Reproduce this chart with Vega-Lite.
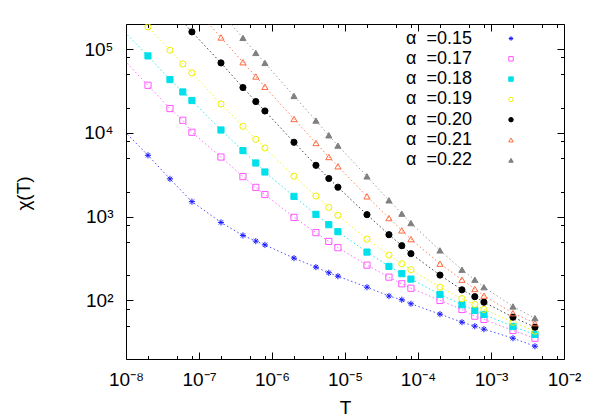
{
  "$schema": "https://vega.github.io/schema/vega-lite/v6.json",
  "autosize": {"type": "none"},
  "padding": {"left": 126, "top": 24, "right": 34, "bottom": 60},
  "width": 438,
  "height": 335,
  "data": {"values": [
    {"alpha": "0.15", "T": 8e-9, "chi": 12200},
    {"alpha": "0.15", "T": 2e-8, "chi": 5410},
    {"alpha": "0.15", "T": 4e-8, "chi": 2830},
    {"alpha": "0.15", "T": 8e-8, "chi": 1513},
    {"alpha": "0.15", "T": 2e-7, "chi": 855},
    {"alpha": "0.15", "T": 4e-7, "chi": 598},
    {"alpha": "0.15", "T": 6e-7, "chi": 511},
    {"alpha": "0.15", "T": 8e-7, "chi": 461},
    {"alpha": "0.15", "T": 2e-6, "chi": 320},
    {"alpha": "0.15", "T": 4e-6, "chi": 250},
    {"alpha": "0.15", "T": 6e-6, "chi": 214},
    {"alpha": "0.15", "T": 8e-6, "chi": 195},
    {"alpha": "0.15", "T": 2e-5, "chi": 144},
    {"alpha": "0.15", "T": 4e-5, "chi": 113},
    {"alpha": "0.15", "T": 6e-5, "chi": 102},
    {"alpha": "0.15", "T": 8e-5, "chi": 91.3},
    {"alpha": "0.15", "T": 2e-4, "chi": 68.6},
    {"alpha": "0.15", "T": 4e-4, "chi": 55.0},
    {"alpha": "0.15", "T": 6e-4, "chi": 49.3},
    {"alpha": "0.15", "T": 8e-4, "chi": 45.4},
    {"alpha": "0.15", "T": 2e-3, "chi": 35.4},
    {"alpha": "0.15", "T": 4e-3, "chi": 28.4},

    {"alpha": "0.17", "T": 8e-9, "chi": 86000},
    {"alpha": "0.17", "T": 2e-8, "chi": 37100},
    {"alpha": "0.17", "T": 4e-8, "chi": 19560},
    {"alpha": "0.17", "T": 6e-8, "chi": 14170},
    {"alpha": "0.17", "T": 8e-8, "chi": 10190},
    {"alpha": "0.17", "T": 2e-7, "chi": 5160},
    {"alpha": "0.17", "T": 4e-7, "chi": 3010},
    {"alpha": "0.17", "T": 6e-7, "chi": 2240},
    {"alpha": "0.17", "T": 8e-7, "chi": 1840},
    {"alpha": "0.17", "T": 2e-6, "chi": 982},
    {"alpha": "0.17", "T": 4e-6, "chi": 645},
    {"alpha": "0.17", "T": 6e-6, "chi": 507},
    {"alpha": "0.17", "T": 8e-6, "chi": 427},
    {"alpha": "0.17", "T": 2e-5, "chi": 264},
    {"alpha": "0.17", "T": 4e-5, "chi": 190},
    {"alpha": "0.17", "T": 6e-5, "chi": 158},
    {"alpha": "0.17", "T": 8e-5, "chi": 140},
    {"alpha": "0.17", "T": 2e-4, "chi": 100},
    {"alpha": "0.17", "T": 4e-4, "chi": 78.1},
    {"alpha": "0.17", "T": 6e-4, "chi": 64.9},
    {"alpha": "0.17", "T": 8e-4, "chi": 59.3},
    {"alpha": "0.17", "T": 2e-3, "chi": 43.8},
    {"alpha": "0.17", "T": 4e-3, "chi": 35.4},

    {"alpha": "0.18", "T": 8e-9, "chi": 188000},
    {"alpha": "0.18", "T": 2e-8, "chi": 83200},
    {"alpha": "0.18", "T": 4e-8, "chi": 43400},
    {"alpha": "0.18", "T": 6e-8, "chi": 30900},
    {"alpha": "0.18", "T": 8e-8, "chi": 24400},
    {"alpha": "0.18", "T": 2e-7, "chi": 10850},
    {"alpha": "0.18", "T": 4e-7, "chi": 6160},
    {"alpha": "0.18", "T": 6e-7, "chi": 4380},
    {"alpha": "0.18", "T": 8e-7, "chi": 3420},
    {"alpha": "0.18", "T": 2e-6, "chi": 1750},
    {"alpha": "0.18", "T": 4e-6, "chi": 1067},
    {"alpha": "0.18", "T": 6e-6, "chi": 803},
    {"alpha": "0.18", "T": 8e-6, "chi": 662},
    {"alpha": "0.18", "T": 2e-5, "chi": 378},
    {"alpha": "0.18", "T": 4e-5, "chi": 255},
    {"alpha": "0.18", "T": 6e-5, "chi": 209},
    {"alpha": "0.18", "T": 8e-5, "chi": 180},
    {"alpha": "0.18", "T": 2e-4, "chi": 118},
    {"alpha": "0.18", "T": 4e-4, "chi": 88.9},
    {"alpha": "0.18", "T": 6e-4, "chi": 76.0},
    {"alpha": "0.18", "T": 8e-4, "chi": 68.1},
    {"alpha": "0.18", "T": 2e-3, "chi": 48.9},
    {"alpha": "0.18", "T": 4e-3, "chi": 39.3},

    {"alpha": "0.19", "T": 8e-9, "chi": 430000},
    {"alpha": "0.19", "T": 2e-8, "chi": 184700},
    {"alpha": "0.19", "T": 4e-8, "chi": 97300},
    {"alpha": "0.19", "T": 6e-8, "chi": 66700},
    {"alpha": "0.19", "T": 8e-8, "chi": 52100},
    {"alpha": "0.19", "T": 2e-7, "chi": 22190},
    {"alpha": "0.19", "T": 4e-7, "chi": 12020},
    {"alpha": "0.19", "T": 6e-7, "chi": 8400},
    {"alpha": "0.19", "T": 8e-7, "chi": 6610},
    {"alpha": "0.19", "T": 2e-6, "chi": 3050},
    {"alpha": "0.19", "T": 4e-6, "chi": 1765},
    {"alpha": "0.19", "T": 6e-6, "chi": 1293},
    {"alpha": "0.19", "T": 8e-6, "chi": 1038},
    {"alpha": "0.19", "T": 2e-5, "chi": 540},
    {"alpha": "0.19", "T": 4e-5, "chi": 348},
    {"alpha": "0.19", "T": 6e-5, "chi": 275},
    {"alpha": "0.19", "T": 8e-5, "chi": 233},
    {"alpha": "0.19", "T": 2e-4, "chi": 144},
    {"alpha": "0.19", "T": 4e-4, "chi": 105},
    {"alpha": "0.19", "T": 6e-4, "chi": 89.6},
    {"alpha": "0.19", "T": 8e-4, "chi": 78.1},
    {"alpha": "0.19", "T": 2e-3, "chi": 55.0},
    {"alpha": "0.19", "T": 4e-3, "chi": 43.0},

    {"alpha": "0.20", "T": 6e-8, "chi": 213000},
    {"alpha": "0.20", "T": 8e-8, "chi": 161000},
    {"alpha": "0.20", "T": 2e-7, "chi": 68600},
    {"alpha": "0.20", "T": 4e-7, "chi": 34850},
    {"alpha": "0.20", "T": 6e-7, "chi": 23710},
    {"alpha": "0.20", "T": 8e-7, "chi": 18300},
    {"alpha": "0.20", "T": 2e-6, "chi": 7740},
    {"alpha": "0.20", "T": 4e-6, "chi": 4110},
    {"alpha": "0.20", "T": 6e-6, "chi": 2860},
    {"alpha": "0.20", "T": 8e-6, "chi": 2250},
    {"alpha": "0.20", "T": 2e-5, "chi": 1058},
    {"alpha": "0.20", "T": 4e-5, "chi": 610},
    {"alpha": "0.20", "T": 6e-5, "chi": 451},
    {"alpha": "0.20", "T": 8e-5, "chi": 362},
    {"alpha": "0.20", "T": 2e-4, "chi": 201},
    {"alpha": "0.20", "T": 4e-4, "chi": 134},
    {"alpha": "0.20", "T": 6e-4, "chi": 111},
    {"alpha": "0.20", "T": 8e-4, "chi": 95.4},
    {"alpha": "0.20", "T": 2e-3, "chi": 63.2},
    {"alpha": "0.20", "T": 4e-3, "chi": 48.0},

    {"alpha": "0.21", "T": 8e-8, "chi": 333000},
    {"alpha": "0.21", "T": 2e-7, "chi": 138000},
    {"alpha": "0.21", "T": 4e-7, "chi": 69900},
    {"alpha": "0.21", "T": 6e-7, "chi": 47200},
    {"alpha": "0.21", "T": 8e-7, "chi": 35600},
    {"alpha": "0.21", "T": 2e-6, "chi": 14690},
    {"alpha": "0.21", "T": 4e-6, "chi": 7590},
    {"alpha": "0.21", "T": 6e-6, "chi": 5160},
    {"alpha": "0.21", "T": 8e-6, "chi": 4000},
    {"alpha": "0.21", "T": 2e-5, "chi": 1750},
    {"alpha": "0.21", "T": 4e-5, "chi": 963},
    {"alpha": "0.21", "T": 6e-5, "chi": 687},
    {"alpha": "0.21", "T": 8e-5, "chi": 540},
    {"alpha": "0.21", "T": 2e-4, "chi": 275},
    {"alpha": "0.21", "T": 4e-4, "chi": 177},
    {"alpha": "0.21", "T": 6e-4, "chi": 137},
    {"alpha": "0.21", "T": 8e-4, "chi": 114},
    {"alpha": "0.21", "T": 2e-3, "chi": 70.5},
    {"alpha": "0.21", "T": 4e-3, "chi": 53.6},

    {"alpha": "0.22", "T": 2e-7, "chi": 274000},
    {"alpha": "0.22", "T": 4e-7, "chi": 136500},
    {"alpha": "0.22", "T": 6e-7, "chi": 90300},
    {"alpha": "0.22", "T": 8e-7, "chi": 68600},
    {"alpha": "0.22", "T": 2e-6, "chi": 27660},
    {"alpha": "0.22", "T": 4e-6, "chi": 14050},
    {"alpha": "0.22", "T": 6e-6, "chi": 9380},
    {"alpha": "0.22", "T": 8e-6, "chi": 7060},
    {"alpha": "0.22", "T": 2e-5, "chi": 3030},
    {"alpha": "0.22", "T": 4e-5, "chi": 1568},
    {"alpha": "0.22", "T": 6e-5, "chi": 1087},
    {"alpha": "0.22", "T": 8e-5, "chi": 839},
    {"alpha": "0.22", "T": 2e-4, "chi": 396},
    {"alpha": "0.22", "T": 4e-4, "chi": 233},
    {"alpha": "0.22", "T": 6e-4, "chi": 177},
    {"alpha": "0.22", "T": 8e-4, "chi": 144},
    {"alpha": "0.22", "T": 2e-3, "chi": 84.8},
    {"alpha": "0.22", "T": 4e-3, "chi": 61.4}
  ]},
  "layer": [
    {
      "mark": {"type": "line", "clip": true, "strokeWidth": 1, "strokeDash": [1.5, 2.5], "opacity": 0.85},
      "encoding": {
        "x": {"field": "T", "type": "quantitative",
          "scale": {"type": "log", "domain": [1e-8, 1e-2], "nice": false},
          "axis": {"orient": "bottom", "title": "T",
            "values": [1e-8, 2e-8, 5e-8, 8e-8, 1e-7, 2e-7, 5e-7, 8e-7, 1e-6, 2e-6, 5e-6, 8e-6, 1e-5, 2e-5, 5e-5, 8e-5, 1e-4, 2e-4, 5e-4, 8e-4, 1e-3, 2e-3, 5e-3, 8e-3, 1e-2],
            "tickSize": {"condition": {"test": "abs(log(datum.value)/LN10 - round(log(datum.value)/LN10)) < 1e-6", "value": -7}, "value": -3.5},
            "labelPadding": 18, "labelBaseline": "top", "labelAlign": "center",
            "labelFlush": false, "labelOverlap": false, "labelBound": false,
            "labelExpr": "abs(log(datum.value)/LN10 - round(log(datum.value)/LN10)) < 1e-6 ? '10' + (round(log(datum.value)/LN10) < 0 ? '⁻' : '') + substring('⁰¹²³⁴⁵⁶⁷⁸⁹', abs(round(log(datum.value)/LN10)), abs(round(log(datum.value)/LN10)) + 1) : ''",
            "titleX": 219, "titleY": 54, "titleBaseline": "alphabetic", "titleAlign": "center"}},
        "y": {"field": "chi", "type": "quantitative",
          "scale": {"type": "log", "domain": [20, 200000], "nice": false},
          "axis": {"orient": "left", "title": "χ(T)",
            "values": [50, 80, 100, 200, 500, 800, 1000, 2000, 5000, 8000, 10000, 20000, 50000, 80000, 100000],
            "tickSize": {"condition": {"test": "abs(log(datum.value)/LN10 - round(log(datum.value)/LN10)) < 1e-6", "value": -7}, "value": -3.5},
            "labelPadding": 20, "labelBaseline": "middle", "labelAlign": "right",
            "labelFlush": false, "labelOverlap": false, "labelBound": false,
            "labelExpr": "abs(log(datum.value)/LN10 - round(log(datum.value)/LN10)) < 1e-6 ? '10' + (round(log(datum.value)/LN10) < 0 ? '⁻' : '') + substring('⁰¹²³⁴⁵⁶⁷⁸⁹', abs(round(log(datum.value)/LN10)), abs(round(log(datum.value)/LN10)) + 1) : ''",
            "titleAngle": 270, "titleX": -97, "titleY": 169, "titleBaseline": "alphabetic", "titleAlign": "center"}},
        "color": {"field": "alpha", "type": "nominal", "legend": null,
          "scale": {"range": ["#3030ff", "#ff55ff", "#00e0ea", "#f0f000", "#202020", "#ff6a40", "#909090"]}},
        "detail": {"field": "alpha"}
      }
    },
    {
      "transform": [{"filter": "datum.T >= 1e-8 && datum.T <= 1e-2 && datum.chi >= 20 && datum.chi <= 200000"}],
      "mark": {"type": "point", "clip": true, "strokeWidth": 1, "opacity": 1},
      "encoding": {
        "x": {"field": "T", "type": "quantitative",
          "scale": {"type": "log", "domain": [1e-8, 1e-2], "nice": false},
          "axis": {"orient": "top", "title": null, "labels": false,
            "values": [1e-8, 2e-8, 5e-8, 8e-8, 1e-7, 2e-7, 5e-7, 8e-7, 1e-6, 2e-6, 5e-6, 8e-6, 1e-5, 2e-5, 5e-5, 8e-5, 1e-4, 2e-4, 5e-4, 8e-4, 1e-3, 2e-3, 5e-3, 8e-3, 1e-2],
            "tickSize": {"condition": {"test": "abs(log(datum.value)/LN10 - round(log(datum.value)/LN10)) < 1e-6", "value": -7}, "value": -3.5}}},
        "y": {"field": "chi", "type": "quantitative",
          "scale": {"type": "log", "domain": [20, 200000], "nice": false},
          "axis": {"orient": "right", "title": null, "labels": false,
            "values": [50, 80, 100, 200, 500, 800, 1000, 2000, 5000, 8000, 10000, 20000, 50000, 80000, 100000],
            "tickSize": {"condition": {"test": "abs(log(datum.value)/LN10 - round(log(datum.value)/LN10)) < 1e-6", "value": -7}, "value": -3.5}}},
        "shape": {"field": "alpha", "type": "nominal", "title": null,
          "scale": {"domain": ["0.15", "0.17", "0.18", "0.19", "0.20", "0.21", "0.22"],
            "range": ["M-1,0L1,0M0,-1L0,1M-0.7,-0.7L0.7,0.7M-0.7,0.7L0.7,-0.7", "square", "square", "circle", "circle", "triangle-up", "triangle-up"]},
          "legend": {"orient": "none", "legendX": 260, "legendY": 5.5, "title": null,
            "labelAlign": "left", "labelOffset": -114, "symbolOffset": 116,
            "labelExpr": "'α\u00a0\u00a0=' + datum.label"}},
        "stroke": {"field": "alpha", "type": "nominal", "title": null,
          "scale": {"domain": ["0.15", "0.17", "0.18", "0.19", "0.20", "0.21", "0.22"],
            "range": ["#1a1aff", "#ff55ff", "#00e0ea", "#f0f000", "#000000", "#ff6a40", "#808080"]}},
        "fill": {"field": "alpha", "type": "nominal", "title": null,
          "scale": {"domain": ["0.15", "0.17", "0.18", "0.19", "0.20", "0.21", "0.22"],
            "range": ["transparent", "transparent", "#00e0ea", "transparent", "#000000", "transparent", "#808080"]}},
        "size": {"value": 38}
      }
    }
  ],
  "resolve": {"axis": {"x": "independent", "y": "independent"}},
  "config": {
    "font": "Liberation Sans",
    "view": {"stroke": "#000000", "strokeWidth": 1},
    "axis": {"domain": false, "grid": false, "tickColor": "#000000", "tickWidth": 1,
      "labelColor": "#000000", "titleColor": "#000000", "labelFontSize": 19, "titleFontSize": 19,
      "titleFontWeight": "normal", "labelFont": "Liberation Sans", "titleFont": "Liberation Sans"},
    "legend": {"padding": 0, "labelFontSize": 18, "labelFont": "Liberation Sans", "labelColor": "#000000",
      "symbolSize": 20, "symbolStrokeWidth": 1, "rowPadding": 2.3, "labelLimit": 0}
  }
}
